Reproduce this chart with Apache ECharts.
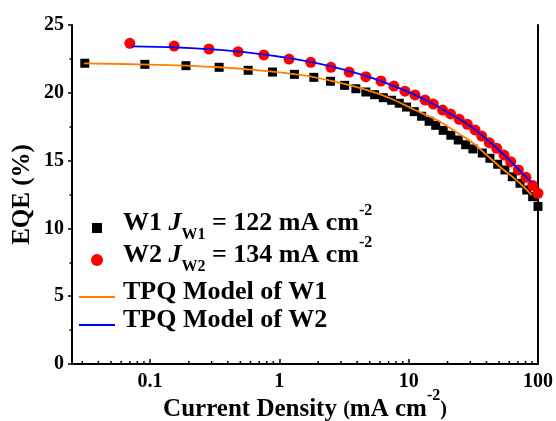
<!DOCTYPE html>
<html>
<head>
<meta charset="utf-8">
<script src="https://cdn.jsdelivr.net/npm/echarts@6/dist/echarts.min.js"></script>
<style>
  html, body { margin: 0; padding: 0; background: #fff; }
  #main { width: 556px; height: 421px; }
</style>
</head>
<body>
<div id="main"></div>
<script>
// measured points, W1 (black squares)
const w1Current = [0.0314, 0.0914, 0.190, 0.343, 0.575, 0.887, 1.31, 1.85, 2.49, 3.20, 3.91, 4.67,
  5.46, 6.37, 7.39, 8.46, 9.65, 11.05, 12.6, 14.4, 16.2, 18.5, 21.2, 24.2, 27.6, 31.4, 37.1,
  42.5, 48.8, 55.5, 63.3, 72.6, 81.8, 91.0, 100];
const w1Eqe = [22.18, 22.10, 22.00, 21.88, 21.66, 21.53, 21.36, 21.14, 20.85, 20.55, 20.30, 20.06,
  19.86, 19.64, 19.45, 19.23, 18.95, 18.61, 18.27, 17.90, 17.60, 17.23, 16.87, 16.52, 16.17, 15.86, 15.56,
  15.17, 14.73, 14.31, 13.81, 13.33, 12.83, 12.34, 11.62];

// measured points, W2 (red circles)
const w2Current = [0.070, 0.154, 0.286, 0.481, 0.760, 1.19, 1.75, 2.51, 3.47, 4.67, 6.11, 7.69,
  9.36, 11.2, 13.4, 15.5, 18.3, 21.1, 24.6, 28.4, 32.6, 36.7, 42.0, 47.9, 54.6, 61.5, 70.5,
  80.8, 91.0, 100];
const w2Eqe = [23.65, 23.45, 23.23, 23.03, 22.79, 22.49, 22.25, 21.88, 21.53, 21.19, 20.87, 20.50,
  20.12, 19.84, 19.47, 19.17, 18.73, 18.44, 18.05, 17.68, 17.26, 16.81, 16.32, 15.91, 15.41, 14.92, 14.31,
  13.77, 13.16, 12.59];

// TPQ model curves
const tpqW1Current = [0.031, 0.1, 0.3, 0.7, 1.5, 3, 5, 7.2, 11, 17.5, 25, 31.6, 40, 50.8, 72.6, 89.4];
const tpqW1Eqe = [22.17, 22.08, 21.92, 21.66, 21.30, 20.72, 20.15, 19.60, 18.77, 17.87, 16.92, 16.28, 15.42, 14.55, 13.33, 12.46];
const tpqW2Current = [0.072, 0.15, 0.3, 0.6, 1.2, 2.5, 5, 10, 15, 20, 30, 45, 60, 75, 89.4];
const tpqW2Eqe = [23.42, 23.36, 23.20, 22.95, 22.55, 21.95, 21.15, 20.05, 19.25, 18.56, 17.55, 16.15, 15.05, 14.10, 13.40];

// minor ticks of the log axis
const xMinorTicks = [0.03, 0.04, 0.05, 0.06, 0.07, 0.08, 0.09,
  0.2, 0.3, 0.4, 0.5, 0.6, 0.7, 0.8, 0.9,
  2, 3, 4, 5, 6, 7, 8, 9,
  20, 30, 40, 50, 60, 70, 80, 90];

const serif = "'Liberation Serif', 'Times New Roman', serif";
const zip = (xs, ys) => xs.map((x, i) => [x, ys[i]]);

const bold = (size, extra) => Object.assign({
  fontFamily: serif, fontWeight: 'bold', fontSize: size, color: '#000'
}, extra || {});

const legendRich = {
  b: bold(26, { lineHeight: 40 }),
  i: bold(26, { lineHeight: 40, fontStyle: 'italic' }),
  sub: bold(16, { lineHeight: 16, verticalAlign: 'bottom' }),
  sup: bold(16, { lineHeight: 20, verticalAlign: 'top' })
};

const makeLegend = (name, icon, left, top, w, h, padLeft, formatter) => ({
  data: [{ name: name, icon: icon }],
  left: left,
  top: top,
  padding: 0,
  itemWidth: w,
  itemHeight: h,
  selectedMode: false,
  formatter: formatter,
  textStyle: bold(26, { lineHeight: 30, padding: [0, 0, 10, padLeft], rich: legendRich })
});

const getOption = () => ({
  animation: false,
  backgroundColor: '#fff',
  grid: { left: 72, right: 18, top: 25, bottom: 57, containLabel: false, outerBoundsMode: 'none' },
  legend: [
    makeLegend('W1', 'rect', 92, 203, 10, 10, 16, () => '{b|W1 }{i|J}{sub|W1}{b| = 122 mA cm}{sup|-2}'),
    makeLegend('W2', 'circle', 91, 235, 12, 12, 15, () => '{b|W2 }{i|J}{sub|W2}{b| = 134 mA cm}{sup|-2}'),
    makeLegend('TPQ Model of W1', 'rect', 79, 277, 36, 2, 3),
    makeLegend('TPQ Model of W2', 'rect', 79, 305, 36, 2, 3)
  ],
  xAxis: [
    {
      type: 'log',
      logBase: 10,
      min: 0.025,
      max: 100,
      position: 'bottom',
      name: '{a|Current Density }{p|(}{a|mA cm}{sup|-2}{p|)}',
      nameLocation: 'middle',
      nameGap: 24,
      nameMoveOverlap: false,
      nameTextStyle: {
        rich: {
          a: bold(25, { lineHeight: 44 }),
          p: bold(20, { lineHeight: 44 }),
          sup: bold(16, { lineHeight: 16, verticalAlign: 'top' })
        }
      },
      axisLine: { lineStyle: { color: '#000', width: 2 } },
      axisTick: { inside: true, length: 5, lineStyle: { color: '#000', width: 1.5 } },
      axisLabel: Object.assign(bold(20), { margin: 8, showMinLabel: false }),
      splitLine: { show: false },
      minorTick: { show: false }
    },
    {
      type: 'log',
      logBase: 10,
      min: 0.025,
      max: 100,
      position: 'top',
      axisLine: { lineStyle: { color: '#000', width: 2 } },
      axisTick: { show: false },
      axisLabel: { show: false },
      splitLine: { show: false }
    }
  ],
  yAxis: [
    {
      type: 'value',
      min: 0,
      max: 25,
      interval: 5,
      position: 'left',
      name: 'EQE (%)',
      nameLocation: 'middle',
      nameGap: 34,
      nameMoveOverlap: false,
      nameTextStyle: bold(25, { lineHeight: 30 }),
      axisLine: { show: true, lineStyle: { color: '#000', width: 2 } },
      axisTick: { show: true, length: 4, lineStyle: { color: '#000', width: 1.5 } },
      minorTick: { show: true, splitNumber: 2, length: 2.5, lineStyle: { color: '#000', width: 1.5 } },
      axisLabel: Object.assign(bold(20), { margin: 8 }),
      splitLine: { show: false }
    },
    {
      type: 'value',
      min: 0,
      max: 25,
      position: 'right',
      axisLine: { show: true, lineStyle: { color: '#000', width: 2 } },
      axisTick: { show: false },
      axisLabel: { show: false },
      splitLine: { show: false }
    }
  ],
  series: [
    {
      name: 'W1',
      type: 'scatter',
      symbol: 'rect',
      symbolSize: 9,
      itemStyle: { color: '#000', opacity: 1 },
      data: zip(w1Current, w1Eqe),
      z: 2
    },
    {
      name: 'W2',
      type: 'scatter',
      symbol: 'circle',
      symbolSize: 11,
      itemStyle: { color: '#ff0000', opacity: 1 },
      data: zip(w2Current, w2Eqe),
      z: 2
    },
    {
      name: 'TPQ Model of W1',
      type: 'line',
      smooth: 0.3,
      symbol: 'none',
      lineStyle: { color: '#ff8000', width: 1.8 },
      itemStyle: { color: '#ff8000' },
      data: zip(tpqW1Current, tpqW1Eqe),
      z: 3
    },
    {
      name: 'TPQ Model of W2',
      type: 'line',
      smooth: 0.3,
      symbol: 'none',
      lineStyle: { color: '#0000ff', width: 1.8 },
      itemStyle: { color: '#0000ff' },
      data: zip(tpqW2Current, tpqW2Eqe),
      z: 3
    },
    {
      name: 'minor ticks',
      type: 'custom',
      clip: false,
      silent: true,
      z: 4,
      data: xMinorTicks.map(v => [v, 0]),
      renderItem: (params, api) => {
        const p = api.coord([api.value(0), 0]);
        return {
          type: 'line',
          shape: { x1: p[0], y1: p[1], x2: p[0], y2: p[1] - 3 },
          style: { stroke: '#000', lineWidth: 1.5 }
        };
      }
    }
  ]
});

const initChart = () => {
  const chart = echarts.init(document.getElementById('main'), null, { renderer: 'canvas' });
  chart.setOption(getOption());
};

window.addEventListener('load', () => {
  initChart();
});
</script>
</body>
</html>
